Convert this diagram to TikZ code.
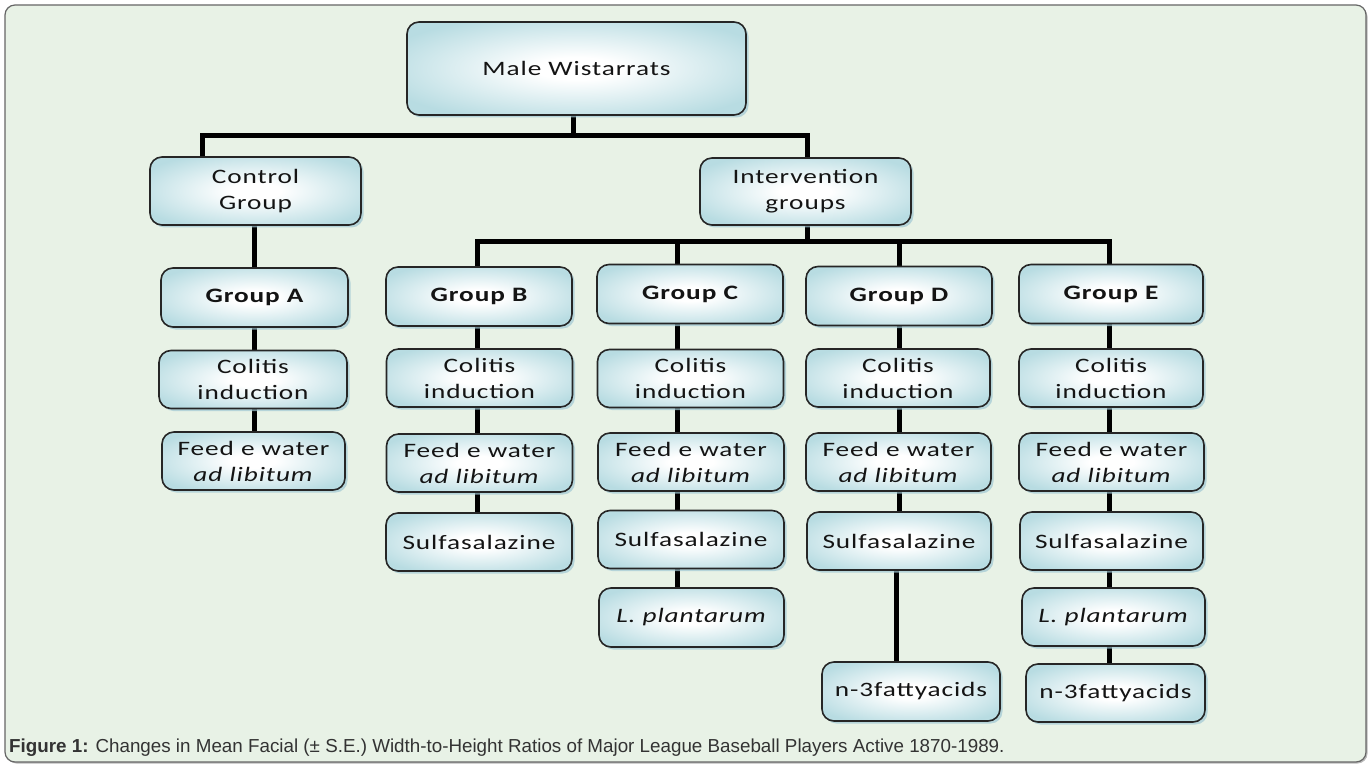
\documentclass[tikz,border=0pt]{standalone}
\usepackage{fontspec}
\setmainfont{Carlito}[FakeStretch=1.33,LetterSpace=4.5]
\newfontfamily\capfont{Liberation Sans}
\usetikzlibrary{shadows}
\definecolor{bgfill}{RGB}{232,242,230}
\definecolor{boxblue}{RGB}{184,220,226}
\definecolor{shadowblue}{RGB}{160,200,212}
\pgfdeclareradialshading{boxshade}{\pgfpoint{0bp}{0bp}}{color(0bp)=(white); color(6bp)=(white); color(30bp)=(boxblue); color(50bp)=(boxblue)}
\pgfdeclarelayer{bgzero}
\pgfdeclarelayer{bgone}
\pgfsetlayers{bgzero,bgone,main}
\tikzset{
  box/.style={draw=black!85, line width=1.6pt, rounded corners=12pt, shading=boxshade,
    align=center, inner sep=0pt, text=black!92, font=\fontsize{20.5}{26}\selectfont,
    drop shadow={shadow xshift=2.5pt, shadow yshift=-2.5pt, fill=shadowblue, opacity=0.7}},
  grp/.style={box, minimum width=186pt, minimum height=59pt, font=\fontsize{20.5}{26}\selectfont\bfseries},
  std/.style={box, minimum width=186pt, minimum height=58pt},
  conn/.style={line width=5pt, black},
  frame/.style={draw=black!60, line width=1.2pt, fill=bgfill, rounded corners=10pt,
    drop shadow={shadow xshift=1.5pt, shadow yshift=-1.5pt, fill=black!45, opacity=0.6}}
}
\begin{document}
\begin{tikzpicture}[x=1pt,y=-1pt]
\useasboundingbox (0,0) rectangle (1372,767);
\begin{pgfonlayer}{bgzero}
\fill[white] (0,0) rectangle (1372,767);
\path[frame] (5,5) rectangle (1366,762);
\end{pgfonlayer}

% top levels
\node[box, minimum width=339pt, minimum height=93pt] (top) at (576.5,68.5) {Male Wistarrats};
\node[box, minimum width=211pt, minimum height=68pt] (ctrl) at (255.5,191) {Control\\Group};
\node[box, minimum width=211pt, minimum height=67pt] (interv) at (805.5,191.5) {Intervention\\groups};

% groups
\node[grp, minimum width=187pt] (gA) at (254.5,297.5) {Group A};
\node[grp] (gB) at (479,296.5) {Group B};
\node[grp] (gC) at (690,294) {Group C};
\node[grp] (gD) at (899,296) {Group D};
\node[grp, minimum width=184pt] (gE) at (1111,294) {Group E};

% colitis
\node[std, minimum width=188pt] (cA) at (253,379.5) {Colitis\\induction};
\node[std] (cB) at (479.5,378) {Colitis\\induction};
\node[std] (cC) at (690.5,378.5) {Colitis\\induction};
\node[std, minimum width=184pt] (cD) at (898,378) {Colitis\\induction};
\node[std, minimum width=184pt] (cE) at (1111,378) {Colitis\\induction};

% feed
\node[std, minimum width=183pt] (fA) at (253.5,461) {Feed e water\\\textit{ad libitum}};
\node[std] (fB) at (479.5,463) {Feed e water\\\textit{ad libitum}};
\node[std] (fC) at (691,462) {Feed e water\\\textit{ad libitum}};
\node[std, minimum width=185pt] (fD) at (898.5,462) {Feed e water\\\textit{ad libitum}};
\node[std, minimum width=185pt] (fE) at (1111.5,462) {Feed e water\\\textit{ad libitum}};

% sulfasalazine
\node[std] (sB) at (479,542) {Sulfasalazine};
\node[std] (sC) at (691,539.5) {Sulfasalazine};
\node[std, minimum width=184pt] (sD) at (899,541) {Sulfasalazine};
\node[std, minimum width=183pt] (sE) at (1111.5,541) {Sulfasalazine};

% L. plantarum
\node[std, minimum width=185pt, minimum height=59pt] (lC) at (691.5,617.5) {\textit{L. plantarum}};
\node[std, minimum width=183pt] (lE) at (1113.5,617) {\textit{L. plantarum}};

% n-3 fatty acids
\node[std, minimum width=178pt, minimum height=59pt] (nD) at (911,691.5) {n-3fattyacids};
\node[std, minimum width=179pt] (nE) at (1115.5,693) {n-3fattyacids};

% junction coordinates
\coordinate (j1) at (573,136);
\coordinate (jL) at (202,136);
\coordinate (jR) at (807,136);
\coordinate (k)  at (807,242);
\coordinate (hB) at (477,242);
\coordinate (hC) at (677,242);
\coordinate (hD) at (899,242);
\coordinate (hE) at (1109,242);
\coordinate (xA) at (254.5,0);
\coordinate (xB) at (477,0);
\coordinate (xC) at (677,0);
\coordinate (xD) at (899,0);
\coordinate (xDn) at (896,0);
\coordinate (xE) at (1109,0);

\begin{pgfonlayer}{bgone}
\draw[conn] (top.south -| j1) -- (j1);
\draw[conn] (ctrl.north -| jL) |- (jR) -- (interv.north -| jR);
\draw[conn] (interv.south -| k) -- (k);
\draw[conn] (gB.north -| hB) |- (hE) -- (gE.north -| hE);
\draw[conn] (hC) -- (gC.north -| hC);
\draw[conn] (hD) -- (gD.north -| hD);
% column A
\draw[conn] (ctrl.south -| xA) -- (gA.north -| xA);
\draw[conn] (gA.south -| xA) -- (cA.north -| xA);
\draw[conn] (cA.south -| xA) -- (fA.north -| xA);
% column B
\draw[conn] (gB.south -| xB) -- (cB.north -| xB);
\draw[conn] (cB.south -| xB) -- (fB.north -| xB);
\draw[conn] (fB.south -| xB) -- (sB.north -| xB);
% column C
\draw[conn] (gC.south -| xC) -- (cC.north -| xC);
\draw[conn] (cC.south -| xC) -- (fC.north -| xC);
\draw[conn] (fC.south -| xC) -- (sC.north -| xC);
\draw[conn] (sC.south -| xC) -- (lC.north -| xC);
% column D
\draw[conn] (gD.south -| xD) -- (cD.north -| xD);
\draw[conn] (cD.south -| xD) -- (fD.north -| xD);
\draw[conn] (fD.south -| xD) -- (sD.north -| xD);
\draw[conn] (sD.south -| xDn) -- (nD.north -| xDn);
% column E
\draw[conn] (gE.south -| xE) -- (cE.north -| xE);
\draw[conn] (cE.south -| xE) -- (fE.north -| xE);
\draw[conn] (fE.south -| xE) -- (sE.north -| xE);
\draw[conn] (sE.south -| xE) -- (lE.north -| xE);
\draw[conn] (lE.south -| xE) -- (nE.north -| xE);
\end{pgfonlayer}

\node[anchor=base west, inner sep=0pt, text=black!80, font=\capfont\fontsize{18.8}{22}\selectfont] (cap) at (9,752)
  {\textbf{Figure 1:} Changes in Mean Facial (± S.E.) Width-to-Height Ratios of Major League Baseball Players Active 1870-1989.};
\end{tikzpicture}
\end{document}
